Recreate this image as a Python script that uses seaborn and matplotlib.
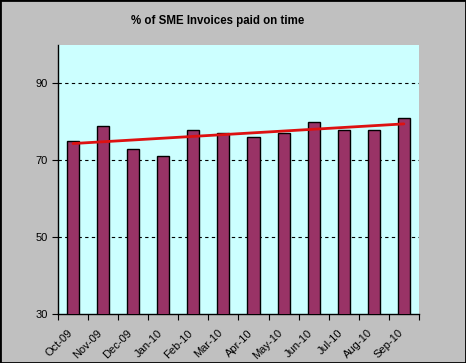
import matplotlib
matplotlib.use("Agg")
import matplotlib.pyplot as plt
import matplotlib.transforms as mtransforms
import seaborn as sns
import numpy as np
import pandas as pd
from matplotlib.patches import Rectangle

# data
months = ["Oct-09", "Nov-09", "Dec-09", "Jan-10", "Feb-10", "Mar-10",
          "Apr-10", "May-10", "Jun-10", "Jul-10", "Aug-10", "Sep-10"]
paid_on_time = [75, 79, 73, 71, 78, 77, 76, 77, 80, 78, 78, 81]
y_ticks = [30, 50, 70, 90]

df = pd.DataFrame({"month": months, "pct": paid_on_time})

sns.set_style("white")
plt.rcParams["font.family"] = ["Liberation Sans", "DejaVu Sans"]
plt.rcParams["text.color"] = "black"
plt.rcParams["xtick.color"] = "black"
plt.rcParams["ytick.color"] = "black"

fig = plt.figure(figsize=(4.66, 3.63), dpi=100, facecolor="#c0c0c0")
ax = fig.add_axes([0.1245, 0.135, 0.7745, 0.741])
ax.set_facecolor("#ccffff")

sns.barplot(data=df, x="month", y="pct", color="#993366", width=0.4,
            edgecolor="black", linewidth=1, saturation=1, ax=ax, zorder=3)

# linear trend line
xs = np.arange(len(months))
slope, icpt = np.polyfit(xs, paid_on_time, 1)
ax.plot(xs, slope * xs + icpt, color="#dd1111", lw=2, zorder=4)

ax.set_ylim(30, 100)
ax.set_xlim(-0.5, len(months) - 0.5)
ax.set_yticks(y_ticks)
for y in y_ticks[1:]:
    ax.axhline(y, color="black", lw=0.8, ls=(0, (3, 3)), zorder=1)

ax.set_xticks(xs)
ax.set_xticklabels(months, rotation=45, ha="right", rotation_mode="anchor",
                   fontsize=8)
ax.set_xticks(np.arange(len(months) + 1) - 0.5, minor=True)
ax.tick_params(axis="x", which="major", length=0, pad=10)
ax.tick_params(axis="x", which="minor", length=4, width=0.8, color="black",
               direction="out", bottom=True)
ax.tick_params(axis="y", length=4, width=0.8, color="black", direction="out",
               left=True, labelsize=8, labelcolor="black")
ax.tick_params(axis="x", labelcolor="black")
shift = mtransforms.ScaledTranslation(-6 / 100, 0, fig.dpi_scale_trans)
for lbl in ax.get_xticklabels():
    lbl.set_transform(lbl.get_transform() + shift)
ax.set_xlabel("")
ax.set_ylabel("")

for side in ["top", "right"]:
    ax.spines[side].set_visible(False)
for side in ["left", "bottom"]:
    ax.spines[side].set_color("black")
    ax.spines[side].set_linewidth(1)

fig.text(0.466, 0.942, "% of SME Invoices paid on time", ha="center",
         va="center", fontsize=8.3, fontweight="bold", color="black")

fig.patches.append(Rectangle((0, 0), 1, 1, transform=fig.transFigure,
                             fill=False, edgecolor="black", lw=2))

fig.savefig("out.png", dpi=100, facecolor=fig.get_facecolor())
